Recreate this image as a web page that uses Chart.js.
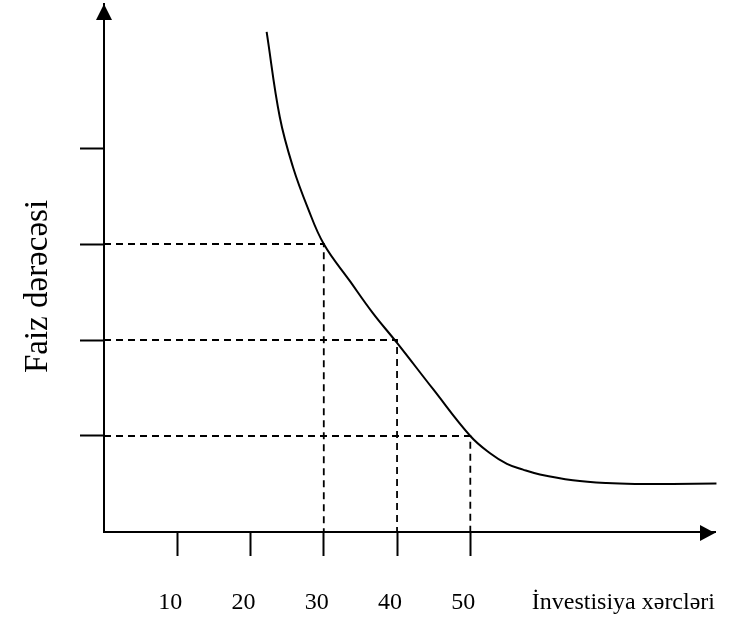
<!DOCTYPE html>
<html>
<head>
<meta charset="utf-8">
<script src="https://cdn.jsdelivr.net/npm/chart.js@4.4.1/dist/chart.umd.min.js"></script>
<style>
  html, body { margin: 0; padding: 0; background: #fff; }
  #wrap { width: 734px; height: 617px; position: relative; }
</style>
</head>
<body>
<div id="wrap"><canvas id="myChart"></canvas></div>
<script>
// əyri: investisiya xərcləri (x) -> faiz dərəcəsi (y)
const curveX = [22.2, 24.0, 25.8, 27.8, 30.0, 33.6, 36.7, 40.0, 44.9, 50.0, 52.7, 55.0, 57.2, 59.5, 64.0, 68.6, 73.1, 77.6, 83.6];
const curveY = [5.21, 4.32, 3.80, 3.38, 3.00, 2.61, 2.28, 1.97, 1.49, 1.00, 0.82, 0.71, 0.65, 0.60, 0.54, 0.51, 0.50, 0.50, 0.505];
// qırıq xətlər (oxlardan əyriyə qədər)
const guideX = [30, 40, 50];
const guideY = [3, 2, 1];
// oxlar
const xTicks = [10, 20, 30, 40, 50];
const yTicks = [1, 2, 3, 4];
const xMax = 83.4;
const yMax = 5.5;
const xTitle = 'İnvestisiya xərcləri';
const yTitle = 'Faiz dərəcəsi';

const FONT = "'Liberation Serif', 'Times New Roman', serif";

const curve = curveX.map((x, i) => ({ x: x, y: curveY[i] }));
const guides = guideX.map((gx, i) => ({
    label: 'guide' + i,
    data: [{ x: 0, y: guideY[i] }, { x: gx, y: guideY[i] }, { x: gx, y: 0 }],
    borderColor: '#000',
    borderWidth: 1.8,
    borderDash: [7, 5],
    pointRadius: 0,
    tension: 0,
    order: 2
}));

// ox uclarında oxlar + şaquli başlıq
const arrows = {
    id: 'arrows',
    afterDraw(chart) {
        const { ctx, chartArea: a } = chart;
        ctx.save();
        ctx.fillStyle = '#000';
        // y oxu
        ctx.beginPath();
        ctx.moveTo(a.left, a.top);
        ctx.lineTo(a.left - 8, a.top + 16);
        ctx.lineTo(a.left + 8, a.top + 16);
        ctx.closePath();
        ctx.fill();
        // x oxu
        ctx.beginPath();
        ctx.moveTo(a.right, a.bottom + 1);
        ctx.lineTo(a.right - 15, a.bottom + 1 - 8);
        ctx.lineTo(a.right - 15, a.bottom + 1 + 8);
        ctx.closePath();
        ctx.fill();
        // y başlığı
        ctx.translate(46.5, 286.5);
        ctx.rotate(-Math.PI / 2);
        ctx.font = '33px ' + FONT;
        ctx.textAlign = 'center';
        ctx.textBaseline = 'alphabetic';
        ctx.fillText(yTitle, 0, 0);
        ctx.restore();
    }
};

const ctx = document.getElementById('myChart');
const myChart = new Chart(ctx, {
    type: 'line',
    data: {
        datasets: [
            {
                label: 'curve',
                data: curve,
                borderColor: '#000',
                borderWidth: 2,
                pointRadius: 0,
                tension: 0.4,
                clip: false,
                order: 1
            },
            ...guides
        ]
    },
    options: {
        responsive: true,
        maintainAspectRatio: false,
        animation: false,
        layout: { padding: { top: 4, right: 19, left: 0, bottom: 0 } },
        plugins: {
            legend: { display: false },
            tooltip: { enabled: false }
        },
        scales: {
            x: {
                type: 'linear',
                min: 0,
                max: xMax,
                afterBuildTicks: s => { s.ticks = xTicks.map(v => ({ value: v })); },
                afterFit: s => { s.height = 85; },
                grid: {
                    drawOnChartArea: false,
                    drawTicks: true,
                    tickLength: 24,
                    tickWidth: 2,
                    tickColor: '#000',
                    color: '#000'
                },
                border: { display: true, color: '#000', width: 2 },
                ticks: {
                    color: '#000',
                    font: { family: FONT, size: 24 },
                    padding: 32,
                    labelOffset: -7,
                    autoSkip: false,
                    maxRotation: 0
                },
                title: {
                    display: true,
                    text: xTitle,
                    align: 'end',
                    color: '#000',
                    font: { family: FONT, size: 24 },
                    padding: { top: 0, bottom: 0 }
                }
            },
            y: {
                type: 'linear',
                min: 0,
                max: yMax,
                afterBuildTicks: s => { s.ticks = yTicks.map(v => ({ value: v })); },
                afterFit: s => { s.width = 104; },
                grid: {
                    drawOnChartArea: false,
                    drawTicks: true,
                    tickLength: 24,
                    tickWidth: 2,
                    tickColor: '#000',
                    color: '#000'
                },
                border: { display: true, color: '#000', width: 2 },
                ticks: { display: false }
            }
        }
    },
    plugins: [arrows]
});
</script>
</body>
</html>
